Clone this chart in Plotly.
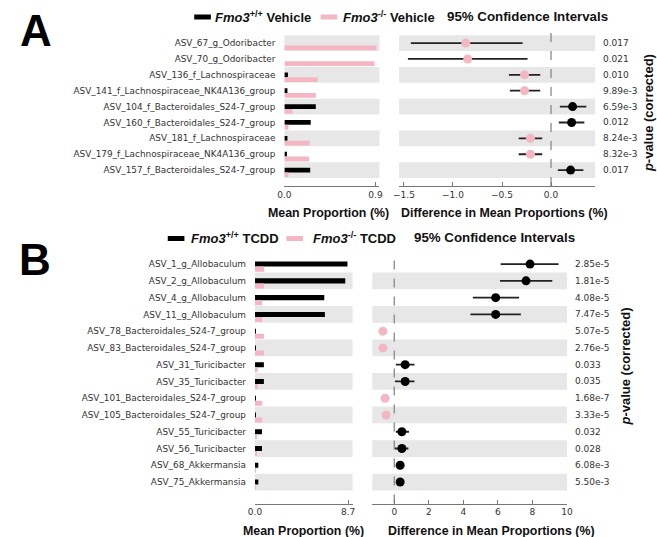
import plotly.graph_objects as go

W, H = 657, 537

# ---------------- Data ----------------
A_names = ["ASV_67_g_Odoribacter", "ASV_70_g_Odoribacter", "ASV_136_f_Lachnospiraceae",
           "ASV_141_f_Lachnospiraceae_NK4A136_group", "ASV_104_f_Bacteroidales_S24-7_group",
           "ASV_160_f_Bacteroidales_S24-7_group", "ASV_181_f_Lachnospiraceae",
           "ASV_179_f_Lachnospiraceae_NK4A136_group", "ASV_157_f_Bacteroidales_S24-7_group"]
A_wt = [0.0, 0.0, 0.035, 0.03, 0.31, 0.26, 0.03, 0.025, 0.255]
A_ko = [0.91, 0.89, 0.33, 0.31, 0.08, 0.04, 0.25, 0.245, 0.04]
A_diff = [-0.87, -0.85, -0.27, -0.27, 0.22, 0.21, -0.21, -0.21, 0.20]
A_lo = [-1.43, -1.46, -0.43, -0.42, 0.09, 0.08, -0.33, -0.33, 0.07]
A_hi = [-0.29, -0.24, -0.11, -0.11, 0.36, 0.34, -0.09, -0.09, 0.33]
A_p = ["0.017", "0.021", "0.010", "9.89e-3", "6.59e-3", "0.012", "8.24e-3", "8.32e-3", "0.017"]
A_bar_ticks = [0.0, 0.9]
A_bar_ticktext = ["0.0", "0.9"]
A_ci_ticks = [-1.5, -1.0, -0.5, 0.0]
A_ci_ticktext = ["\u22121.5", "\u22121.0", "\u22120.5", "0.0"]

B_names = ["ASV_1_g_Allobaculum", "ASV_2_g_Allobaculum", "ASV_4_g_Allobaculum", "ASV_11_g_Allobaculum",
           "ASV_78_Bacteroidales_S24-7_group", "ASV_83_Bacteroidales_S24-7_group",
           "ASV_31_Turicibacter", "ASV_35_Turicibacter",
           "ASV_101_Bacteroidales_S24-7_group", "ASV_105_Bacteroidales_S24-7_group",
           "ASV_55_Turicibacter", "ASV_56_Turicibacter", "ASV_68_Akkermansia", "ASV_75_Akkermansia"]
B_wt = [8.64, 8.43, 6.47, 6.53, 0.08, 0.08, 0.83, 0.83, 0.06, 0.06, 0.65, 0.65, 0.31, 0.31]
B_ko = [0.86, 0.86, 0.67, 0.67, 0.83, 0.83, 0.25, 0.25, 0.68, 0.68, 0.19, 0.19, 0.02, 0.02]
B_diff = [7.86, 7.63, 5.87, 5.87, -0.66, -0.66, 0.63, 0.63, -0.53, -0.47, 0.44, 0.44, 0.34, 0.34]
B_lo = [6.16, 6.12, 4.55, 4.41, -0.75, -0.75, 0.09, 0.04, -0.60, -0.55, 0.09, 0.04, 0.28, 0.28]
B_hi = [9.51, 9.15, 7.23, 7.33, -0.57, -0.57, 1.17, 1.17, -0.46, -0.40, 0.85, 0.82, 0.40, 0.40]
B_p = ["2.85e-5", "1.81e-5", "4.08e-5", "7.47e-5", "5.07e-5", "2.76e-5", "0.033", "0.035",
       "1.68e-7", "3.33e-5", "0.032", "0.028", "6.08e-3", "5.50e-3"]
B_bar_ticks = [0.0, 8.7]
B_bar_ticktext = ["0.0", "8.7"]
B_ci_ticks = [0, 2, 4, 6, 8, 10]

# ---------------- Style ----------------
BLACK = "#000000"
PINK = "#F4B6C3"
BAND = "#E7E7E7"
AX = "#777777"
TXT = "#333333"
LBL_FONT = "DejaVu Sans"
BOLD_FONT = "Liberation Sans"


def px(x):
    return x / W


def py(y):
    return 1 - y / H


fig = go.Figure()

rowsA = list(range(len(A_names)))
rowsB = list(range(len(B_names)))

# Panel A bars
fig.add_trace(go.Bar(x=A_wt, y=rowsA, orientation="h", xaxis="x", yaxis="y",
                     width=0.3, offset=-0.15, marker=dict(color=BLACK, line=dict(width=0)),
                     showlegend=False, hoverinfo="skip"))
fig.add_trace(go.Bar(x=A_ko, y=rowsA, orientation="h", xaxis="x", yaxis="y",
                     width=0.3, offset=0.15, marker=dict(color=PINK, line=dict(width=0)),
                     showlegend=False, hoverinfo="skip"))
# Panel A CI
fig.add_trace(go.Scatter(
    x=A_diff, y=rowsA, xaxis="x2", yaxis="y", mode="markers",
    marker=dict(size=9, color=[BLACK if d > 0 else PINK for d in A_diff]),
    error_x=dict(type="data", symmetric=False,
                 array=[h - d for h, d in zip(A_hi, A_diff)],
                 arrayminus=[d - l for d, l in zip(A_diff, A_lo)],
                 color="#222222", thickness=1.8, width=0),
    showlegend=False, hoverinfo="skip"))

# Panel B bars
fig.add_trace(go.Bar(x=B_wt, y=rowsB, orientation="h", xaxis="x3", yaxis="y2",
                     width=0.3, offset=-0.15, marker=dict(color=BLACK, line=dict(width=0)),
                     showlegend=False, hoverinfo="skip"))
fig.add_trace(go.Bar(x=B_ko, y=rowsB, orientation="h", xaxis="x3", yaxis="y2",
                     width=0.3, offset=0.15, marker=dict(color=PINK, line=dict(width=0)),
                     showlegend=False, hoverinfo="skip"))
# Panel B CI
fig.add_trace(go.Scatter(
    x=B_diff, y=rowsB, xaxis="x4", yaxis="y2", mode="markers",
    marker=dict(size=9, color=[BLACK if d > 0 else PINK for d in B_diff]),
    error_x=dict(type="data", symmetric=False,
                 array=[h - d for h, d in zip(B_hi, B_diff)],
                 arrayminus=[d - l for d, l in zip(B_diff, B_lo)],
                 color="#222222", thickness=1.8, width=0),
    showlegend=False, hoverinfo="skip"))

shapes = []
# bands
for r in rowsA:
    if r % 2 == 0:
        for xr in ("x domain", "x2 domain"):
            shapes.append(dict(type="rect", xref=xr, yref="y", x0=0, x1=1, y0=r - 0.5, y1=r + 0.5,
                               fillcolor=BAND, line=dict(width=0), layer="below"))
for r in rowsB:
    if r % 2 == 1:
        for xr in ("x3 domain", "x4 domain"):
            shapes.append(dict(type="rect", xref=xr, yref="y2", x0=0, x1=1, y0=r - 0.5, y1=r + 0.5,
                               fillcolor=BAND, line=dict(width=0), layer="below"))
# zero dashed lines
shapes.append(dict(type="line", xref="x2", yref="y domain", x0=0, x1=0, y0=0, y1=1,
                   line=dict(color="#888888", width=1.3, dash="dash"), layer="below"))
shapes.append(dict(type="line", xref="x4", yref="y2 domain", x0=0, x1=0, y0=0, y1=1,
                   line=dict(color="#888888", width=1.3, dash="dash"), layer="below"))
# legend swatches
for (x0, x1, y0, y1, c) in [(191, 208, 14.5, 19.5, BLACK), (320, 337, 14.5, 19.5, PINK),
                            (164, 181, 236, 241, BLACK), (285, 302, 236, 241, PINK)]:
    shapes.append(dict(type="rect", xref="paper", yref="paper", x0=px(x0), x1=px(x1),
                       y0=py(y1), y1=py(y0), fillcolor=c, line=dict(width=0)))

ann = []


def text(x, y, s, size=13, family=BOLD_FONT, color="#111111", xanchor="left", angle=0, xshift=0):
    ann.append(dict(x=px(x), y=py(y), xref="paper", yref="paper", text=s, showarrow=False,
                    xanchor=xanchor, yanchor="middle", textangle=angle, xshift=xshift,
                    font=dict(size=size, family=family, color=color)))


# panel letters
text(30, 31, "<b>A</b>", size=44, xanchor="center", color="#000")
text(29, 260, "<b>B</b>", size=44, xanchor="center", color="#000")
# legends
text(210, 16.5, "<b><i>Fmo3</i><sup>+/+</sup> Vehicle</b>", size=13)
text(341, 16.5, "<b><i>Fmo3</i><sup>-/-</sup> Vehicle</b>", size=13)
text(447, 16.5, "<b>95% Confidence Intervals</b>", size=13.3)
text(186, 237.5, "<b><i>Fmo3</i><sup>+/+</sup> TCDD</b>", size=13)
text(310, 237.5, "<b><i>Fmo3</i><sup>-/-</sup> TCDD</b>", size=13)
text(413, 237.5, "<b>95% Confidence Intervals</b>", size=13.3)
# axis titles
text(328, 213, "<b>Mean Proportion (%)</b>", size=12.4, xanchor="center")
text(508, 213, "<b>Difference in Mean Proportions (%)</b>", size=12.4, xanchor="center")
text(302, 531, "<b>Mean Proportion (%)</b>", size=12.4, xanchor="center")
text(494, 531, "<b>Difference in Mean Proportions (%)</b>", size=12.4, xanchor="center")
# p-value titles (panel A one is clipped at the right edge, as in the source figure)
text(651, 113, "<b><i>p</i>-value (corrected)</b>", size=13, xanchor="center", angle=-90, xshift=4)
text(630, 367, "<b><i>p</i>-value (corrected)</b>", size=13, xanchor="center", angle=-90)

# p-values
for r, p in zip(rowsA, A_p):
    ann.append(dict(x=1.0, y=r, xref="x2 domain", yref="y", text=p, showarrow=False,
                    xanchor="left", xshift=6, font=dict(size=9, family=LBL_FONT, color=TXT)))
for r, p in zip(rowsB, B_p):
    ann.append(dict(x=1.0, y=r, xref="x4 domain", yref="y2", text=p, showarrow=False,
                    xanchor="left", xshift=6, font=dict(size=9, family=LBL_FONT, color=TXT)))

tickfont = dict(size=9, family=LBL_FONT, color=TXT)
xcommon = dict(showgrid=False, zeroline=False, showline=True, linecolor=AX, linewidth=1,
               ticks="inside", ticklen=4, tickcolor=AX, tickfont=tickfont, fixedrange=True)
ycommon = dict(showgrid=False, zeroline=False, showline=False, ticks="",
               tickfont=dict(size=8.9, family=LBL_FONT, color=TXT), ticklabelstandoff=8,
               fixedrange=True)

fig.update_layout(
    width=W, height=H, margin=dict(l=0, r=0, t=0, b=0),
    paper_bgcolor="white", plot_bgcolor="rgba(0,0,0,0)",
    barmode="overlay", showlegend=False,
    xaxis=dict(domain=[px(283), px(380)], range=[0, 0.939], anchor="y",
               tickvals=A_bar_ticks, ticktext=A_bar_ticktext, **xcommon),
    xaxis2=dict(domain=[px(400), px(600)], range=[-1.55, 0.45], anchor="y",
                tickvals=A_ci_ticks, ticktext=A_ci_ticktext, **xcommon),
    xaxis3=dict(domain=[px(253), px(352.5)], range=[0, 9.11], anchor="y2",
                tickvals=B_bar_ticks, ticktext=B_bar_ticktext, **xcommon),
    xaxis4=dict(domain=[px(372.7), px(571.3)], range=[-1.27, 10.0], anchor="y2",
                tickvals=B_ci_ticks, **xcommon),
    yaxis=dict(domain=[py(186), py(28)], range=[9.0, -0.95], anchor="x",
               tickvals=rowsA, ticktext=A_names, **ycommon),
    yaxis2=dict(domain=[py(503.5), py(251.7)], range=[14.28, -0.74], anchor="x3",
                tickvals=rowsB, ticktext=B_names, **ycommon),
    shapes=shapes, annotations=ann,
)

fig.write_html("out.html", config={"displayModeBar": False},
               post_script="document.body.style.margin='0';")
